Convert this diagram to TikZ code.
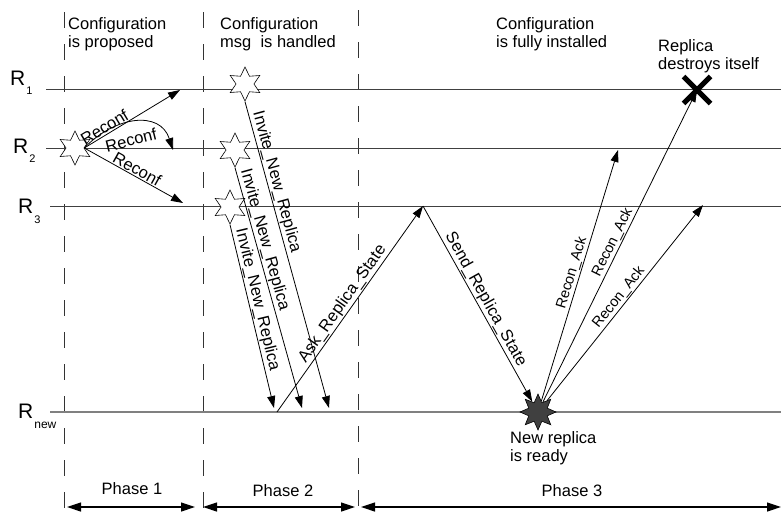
\documentclass[tikz,border=0pt]{standalone}
\usepackage{fontspec}
\setmainfont{Liberation Sans}
\usetikzlibrary{arrows.meta,shapes.geometric,shapes.misc}

% replica name with a low subscript
\newcommand{\rname}[3]{{\fontsize{21}{21}\selectfont R}\kern1pt\raisebox{#3}{\fontsize{#2}{#2}\selectfont #1}}

\begin{document}
\begin{tikzpicture}[x=1pt,y=-1pt,
  msg/.style={draw=black,line width=0.8pt,-{Triangle[length=12pt,width=8pt]}},
  life/.style={draw=black!75,line width=1pt},
  newlife/.style={draw=black!50,line width=2pt},
  divider/.style={draw=black!80,line width=0.8pt,dash pattern=on 16pt off 16pt},
  phasebar/.style={draw=black,line width=1.2pt,{Triangle[length=14pt,width=9pt]}-{Triangle[length=14pt,width=9pt]}},
  lbl/.style={font=\fontsize{16.5}{18.5}\selectfont,align=left,inner sep=0pt,anchor=north west},
  plbl/.style={font=\fontsize{16.5}{18.5}\selectfont,inner sep=0pt,anchor=base},
  mlbl/.style={font=\fontsize{16.5}{16.5}\selectfont,sloped,above,inner sep=1pt},
  albl/.style={font=\fontsize{14.5}{14.5}\selectfont,sloped,above,inner sep=1pt},
  event/.style={star,star points=6,star point ratio=1.9,draw=black,fill=white,line width=0.6pt,inner sep=0pt,minimum size=34pt},
  readystar/.style={star,star points=8,star point ratio=1.8,draw=black,fill=black!75,line width=0.6pt,inner sep=0pt,minimum size=36pt},
]
\useasboundingbox (0,0) rectangle (781,517);

% phase dividers
\draw[divider] (64,12) -- (64,517);
\draw[divider] (203,12) -- (203,517);
\draw[divider] (358,10) -- (358,517);

% life lines
\coordinate (r1a) at (46,89);  \coordinate (r1b) at (781,89);
\coordinate (r2a) at (46,148); \coordinate (r2b) at (781,148);
\coordinate (r3a) at (50,206); \coordinate (r3b) at (781,206);
\coordinate (rna) at (50,412); \coordinate (rnb) at (781,412);
\draw[life] (r1a) -- (r1b);
\draw[life] (r2a) -- (r2b);
\draw[life] (r3a) -- (r3b);
\draw[newlife] (rna) -- (rnb);

\node[anchor=base west,inner sep=0pt] (lr1) at (10,85) {\rname{1}{11}{-9pt}};
\node[anchor=base west,inner sep=0pt] (lr2) at (13,153) {\rname{2}{11}{-9pt}};
\node[anchor=base west,inner sep=0pt] (lr3) at (18,213) {\rname{3}{11}{-10pt}};
\node[anchor=base west,inner sep=0pt] (lrn) at (18,418) {\rname{new}{12}{-10pt}};

% events
\node[event] (prop) at (75,148) {};
\node[event] (inv1) at (245,84) {};
\node[event] (inv2) at (235,150) {};
\node[event] (inv3) at (230,207) {};
\node[readystar] (ready) at (538,412) {};
\node[cross out,draw=black,line width=5pt,minimum size=22pt,inner sep=0pt] (kill) at (697,90) {};

% message end points
\coordinate (rc1) at (180,90);
\coordinate (rc2) at (173,150);
\coordinate (rc3) at (183,203);
\coordinate (in1) at (329,408);
\coordinate (in2) at (302,408);
\coordinate (in3) at (274,408);
\coordinate (ask0) at (277,412);
\coordinate (top3) at (423,206);
\coordinate (ack2) at (618,150);
\coordinate (ack3) at (703,205);

% phase 1
\draw[msg] (prop.east) -- node[mlbl,pos=0.25] {Reconf} (rc1);
\draw[msg] (prop.east) .. controls (115,116) and (160,110) .. (rc2)
  node[font=\fontsize{16.5}{16.5}\selectfont,rotate=14,inner sep=0pt] (rcmid) at (131,140) {Reconf};
\draw[msg] (prop.east) -- node[mlbl,pos=0.5] {Reconf} (rc3);

% phase 2
\draw[msg] (inv1.south) -- node[mlbl,pos=0.27] {Invite\_New\_Replica} (in1);
\draw[msg] (inv2.south) -- node[mlbl,pos=0.31] {Invite\_New\_Replica} (in2);
\draw[msg] (inv3.south) -- node[mlbl,pos=0.42] {Invite\_New\_Replica} (in3);
\draw[msg] (ask0) -- node[mlbl] {Ask\_Replica\_State} (top3);

% phase 3
\draw[msg] (top3) -- node[mlbl] {Send\_Replica\_State} (ready);
\draw[msg] (ready) -- node[albl] {Recon\_Ack} (ack2);
\draw[msg] (ready) -- node[albl] {Recon\_Ack} (kill.center);
\draw[msg] (ready) -- node[albl] {Recon\_Ack} (ack3);

% texts
\node[lbl] (cfg1) at (68,17) {Configuration\\is proposed};
\node[lbl] (cfg2) at (220,17) {Configuration\\msg~ is handled};
\node[lbl] (cfg3) at (496,17) {Configuration\\is fully installed};
\node[lbl] (gone) at (658,39) {Replica\\destroys itself};
\node[lbl] (rdy) at (510,431) {New replica\\is ready};

% phases
\node[plbl] (ph1) at (132,494) {Phase 1};
\node[plbl] (ph2) at (283,496) {Phase 2};
\node[plbl] (ph3) at (572,496) {Phase 3};
\coordinate (p1a) at (67,507);  \coordinate (p1b) at (195,507);
\coordinate (p2a) at (203,507); \coordinate (p2b) at (355,507);
\coordinate (p3a) at (361,507); \coordinate (p3b) at (781,507);
\draw[phasebar] (p1a) -- (p1b);
\draw[phasebar] (p2a) -- (p2b);
\draw[phasebar] (p3a) -- (p3b);
\end{tikzpicture}
\end{document}
